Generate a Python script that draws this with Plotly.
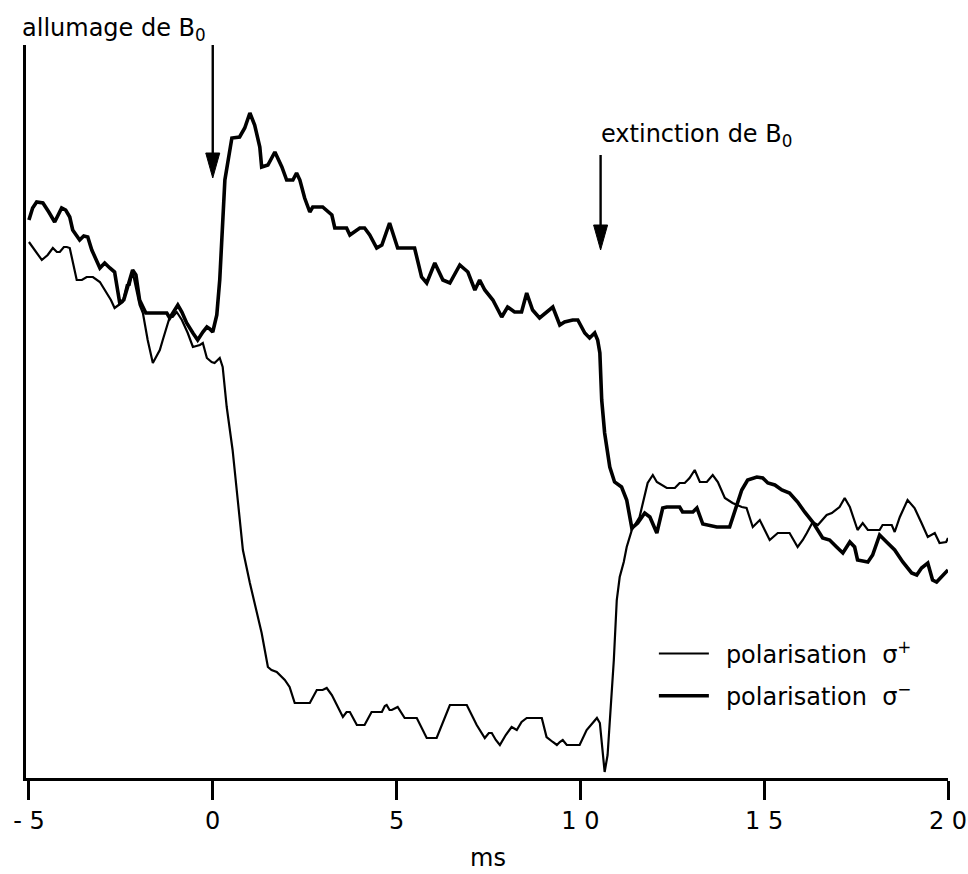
import plotly.graph_objects as go

# ---------------- data ----------------
# time axis in ms, signal in arbitrary units
t_sigma_minus = [
    -5.00, -4.90, -4.79, -4.62, -4.46, -4.30, -4.11, -4.00, -3.89, -3.81,
    -3.62, -3.51, -3.40, -3.29, -3.07, -2.94, -2.80, -2.67, -2.58, -2.53,
    -2.42, -2.31, -2.18, -2.09, -1.99, -1.82, -1.63, -1.44, -1.25, -1.17,
    -1.03, -0.95, -0.84, -0.71, -0.54, -0.41, -0.27, -0.16, -0.08, 0.00,
    0.11, 0.19, 0.33, 0.52, 0.73, 0.87, 1.01, 1.14, 1.28, 1.33,
    1.50, 1.69, 1.88, 2.01, 2.18, 2.28, 2.37, 2.50, 2.64, 2.72,
    2.99, 3.24, 3.32, 3.64, 3.73, 3.86, 4.00, 4.13, 4.27, 4.46,
    4.60, 4.81, 4.95, 5.03, 5.49, 5.68, 5.82, 6.04, 6.26, 6.45,
    6.72, 6.94, 7.13, 7.26, 7.40, 7.62, 7.86, 8.02, 8.21, 8.40,
    8.54, 8.70, 8.89, 9.08, 9.25, 9.44, 9.57, 9.79, 9.93, 10.12,
    10.25, 10.39, 10.47, 10.53, 10.58, 10.66, 10.80, 10.93, 11.12, 11.26,
    11.40, 11.56, 11.75, 11.89, 12.08, 12.24, 12.35, 12.70, 12.78, 13.06,
    13.17, 13.33, 13.71, 14.06, 14.20, 14.39, 14.55, 14.80, 14.96, 15.10,
    15.29, 15.48, 15.69, 15.91, 16.10, 16.32, 16.59, 16.78, 16.97, 17.14,
    17.33, 17.46, 17.54, 17.82, 17.95, 18.14, 18.33, 18.55, 18.77, 19.01,
    19.15, 19.28, 19.45, 19.58, 19.69, 19.86, 20.00,
]
s_sigma_minus = [
    5.58, 5.70, 5.76, 5.75, 5.66, 5.56, 5.70, 5.68, 5.61, 5.48,
    5.38, 5.42, 5.41, 5.28, 5.10, 5.15, 5.10, 5.06, 4.86, 4.75,
    4.78, 4.93, 5.08, 5.03, 4.78, 4.65, 4.65, 4.65, 4.65, 4.60,
    4.68, 4.73, 4.66, 4.55, 4.45, 4.38, 4.46, 4.51, 4.49, 4.46,
    4.63, 4.98, 5.98, 6.40, 6.41, 6.50, 6.65, 6.53, 6.31, 6.11,
    6.13, 6.26, 6.11, 5.98, 5.98, 6.05, 5.98, 5.80, 5.66, 5.71,
    5.71, 5.63, 5.50, 5.50, 5.43, 5.46, 5.50, 5.50, 5.43, 5.30,
    5.33, 5.55, 5.40, 5.30, 5.30, 5.01, 4.95, 5.15, 4.98, 4.95,
    5.13, 5.06, 4.88, 4.98, 4.88, 4.78, 4.61, 4.71, 4.66, 4.66,
    4.85, 4.68, 4.60, 4.66, 4.71, 4.53, 4.56, 4.58, 4.58, 4.45,
    4.40, 4.45, 4.38, 4.25, 3.78, 3.45, 3.11, 2.96, 2.91, 2.78,
    2.50, 2.55, 2.65, 2.61, 2.45, 2.70, 2.71, 2.71, 2.66, 2.66,
    2.70, 2.54, 2.51, 2.51, 2.68, 2.88, 2.98, 3.01, 3.00, 2.95,
    2.93, 2.88, 2.85, 2.76, 2.66, 2.56, 2.40, 2.38, 2.31, 2.25,
    2.36, 2.31, 2.18, 2.16, 2.23, 2.43, 2.36, 2.28, 2.16, 2.05,
    2.03, 2.10, 2.15, 1.98, 1.96, 2.03, 2.08,
]

t_sigma_plus = [
    -5.00, -4.84, -4.65, -4.49, -4.35, -4.24, -4.16, -4.05, -3.97, -3.89,
    -3.78, -3.70, -3.56, -3.43, -3.26, -3.07, -2.97, -2.88, -2.77, -2.67,
    -2.56, -2.45, -2.34, -2.26, -2.18, -2.07, -1.99, -1.90, -1.77, -1.63,
    -1.52, -1.44, -1.36, -1.25, -1.17, -1.09, -0.98, -0.84, -0.68, -0.54,
    -0.35, -0.27, -0.16, -0.03, 0.05, 0.19, 0.27, 0.38, 0.54, 0.68,
    0.82, 1.01, 1.20, 1.33, 1.50, 1.60, 1.74, 1.85, 1.96, 2.09,
    2.23, 2.64, 2.83, 2.99, 3.10, 3.24, 3.40, 3.54, 3.64, 3.73,
    3.92, 4.13, 4.32, 4.60, 4.68, 4.73, 4.81, 4.87, 5.03, 5.22,
    5.55, 5.68, 5.82, 6.09, 6.26, 6.45, 6.91, 7.04, 7.18, 7.40,
    7.51, 7.59, 7.70, 7.81, 7.97, 8.13, 8.27, 8.40, 8.54, 8.95,
    9.08, 9.25, 9.36, 9.44, 9.52, 9.63, 9.71, 9.98, 10.17, 10.34,
    10.45, 10.53, 10.61, 10.66, 10.74, 10.80, 10.91, 10.99, 11.07, 11.18,
    11.26, 11.40, 11.61, 11.83, 11.97, 12.08, 12.35, 12.57, 12.70, 12.84,
    12.97, 13.11, 13.25, 13.44, 13.60, 13.74, 13.93, 14.14, 14.39, 14.52,
    14.69, 14.88, 15.07, 15.15, 15.37, 15.69, 15.91, 16.05, 16.16, 16.32,
    16.46, 16.70, 16.84, 17.05, 17.19, 17.33, 17.54, 17.68, 17.82, 18.14,
    18.22, 18.47, 18.55, 18.69, 18.90, 19.09, 19.28, 19.45, 19.64, 19.77,
    19.95, 20.00,
]
s_sigma_plus = [
    5.36, 5.28, 5.18, 5.23, 5.30, 5.26, 5.26, 5.31, 5.31, 5.30,
    5.13, 4.98, 4.98, 5.01, 5.01, 4.96, 4.90, 4.85, 4.78, 4.70,
    4.73, 4.76, 4.93, 4.93, 5.06, 4.88, 4.73, 4.65, 4.38, 4.15,
    4.23, 4.28, 4.38, 4.51, 4.61, 4.61, 4.66, 4.58, 4.45, 4.31,
    4.33, 4.35, 4.20, 4.16, 4.15, 4.20, 4.11, 3.71, 3.28, 2.78,
    2.28, 1.95, 1.65, 1.45, 1.11, 1.08, 1.06, 1.02, 0.98, 0.91,
    0.75, 0.75, 0.88, 0.88, 0.90, 0.83, 0.71, 0.61, 0.66, 0.66,
    0.53, 0.53, 0.66, 0.66, 0.72, 0.73, 0.68, 0.68, 0.71, 0.60,
    0.60, 0.50, 0.40, 0.40, 0.56, 0.73, 0.73, 0.63, 0.53, 0.40,
    0.45, 0.45, 0.38, 0.33, 0.43, 0.51, 0.48, 0.56, 0.60, 0.60,
    0.41, 0.36, 0.33, 0.36, 0.38, 0.33, 0.33, 0.33, 0.48, 0.56,
    0.60, 0.55, 0.28, 0.06, 0.23, 0.58, 1.18, 1.78, 2.01, 2.16,
    2.31, 2.48, 2.61, 2.95, 3.03, 2.96, 2.90, 2.90, 2.95, 2.95,
    3.00, 3.08, 2.96, 2.96, 3.03, 2.96, 2.80, 2.75, 2.71, 2.70,
    2.51, 2.58, 2.45, 2.38, 2.45, 2.45, 2.31, 2.38, 2.45, 2.56,
    2.53, 2.63, 2.65, 2.71, 2.80, 2.71, 2.48, 2.55, 2.48, 2.48,
    2.53, 2.53, 2.46, 2.61, 2.78, 2.70, 2.55, 2.41, 2.45, 2.35,
    2.36, 2.40,
]

series_names = ["\u2002polarisation\u00a0\u00a0σ<sup>+</sup>",
                "\u2002polarisation\u00a0\u00a0σ<sup>−</sup>"]

tick_vals = [-5, 0, 5, 10, 15, 20]
tick_text = ["- 5", "0", "5", "1 0", "1 5", "2 0"]

event_ms = [0.0, 10.55]
event_labels = ["allumage de B<sub>0</sub>", "extinction de B<sub>0</sub>"]

FONT = "DejaVu Sans"

fig = go.Figure()
fig.add_trace(go.Scatter(x=t_sigma_plus, y=s_sigma_plus, mode="lines",
                         name=series_names[0], legendgroup="plus",
                         line=dict(color="black", width=2.2)))
fig.add_trace(go.Scatter(x=t_sigma_minus, y=s_sigma_minus, mode="lines",
                         name=series_names[1], legendgroup="minus",
                         line=dict(color="black", width=3.6)))

# arrows marking the switching of B0
arrow_top = [7.33, 6.23]
arrow_tip = [6.00, 5.28]
shapes = []
for t, top, tip in zip(event_ms, arrow_top, arrow_tip):
    shapes.append(dict(type="line", xref="x", yref="y", x0=t, x1=t, y0=top, y1=tip + 0.15,
                       line=dict(color="black", width=2.4)))
    shapes.append(dict(type="path", xref="x", yref="y", xsizemode="pixel", ysizemode="pixel",
                       xanchor=t, yanchor=tip, path="M-7,25 L7,25 L0,0 Z",
                       fillcolor="black", line=dict(color="black", width=1)))

annotations = [
    dict(text=event_labels[0], xref="paper", yref="paper", x=-0.006, y=1.021,
         xanchor="left", yanchor="middle", showarrow=False,
         font=dict(family=FONT, size=24, color="black")),
    dict(text=event_labels[1], xref="paper", yref="paper", x=0.622, y=0.876,
         xanchor="left", yanchor="middle", showarrow=False,
         font=dict(family=FONT, size=24, color="black")),
    dict(text="ms", xref="x", yref="paper", x=7.5, y=-0.109,
         xanchor="center", yanchor="middle", showarrow=False,
         font=dict(family=FONT, size=24, color="black")),
]

fig.update_layout(
    width=968, height=874,
    margin=dict(l=26, r=20, t=45, b=96, autoexpand=False),
    paper_bgcolor="white", plot_bgcolor="white",
    font=dict(family=FONT, size=24, color="black"),
    showlegend=True,
    legend=dict(x=0.681, y=0.2, xanchor="left", yanchor="top",
                bgcolor="rgba(0,0,0,0)", font=dict(family=FONT, size=24, color="black"),
                itemwidth=50, tracegroupgap=8),
    shapes=shapes,
    annotations=annotations,
)
fig.update_xaxes(range=[-5.08, 20.0], showgrid=False, zeroline=False, automargin=False,
                 showline=True, linecolor="black", linewidth=3,
                 ticks="outside", ticklen=19, tickwidth=3, tickcolor="black",
                 tickvals=tick_vals, ticktext=tick_text,
                 tickfont=dict(family=FONT, size=24, color="black"))
fig.update_yaxes(range=[0, 7.33], showgrid=False, zeroline=False, automargin=False,
                 showline=True, linecolor="black", linewidth=3,
                 showticklabels=False, ticks="")

fig.write_html("out.html", config={"displayModeBar": False},
               post_script="document.body.style.margin='0px';document.body.style.overflow='hidden';")
